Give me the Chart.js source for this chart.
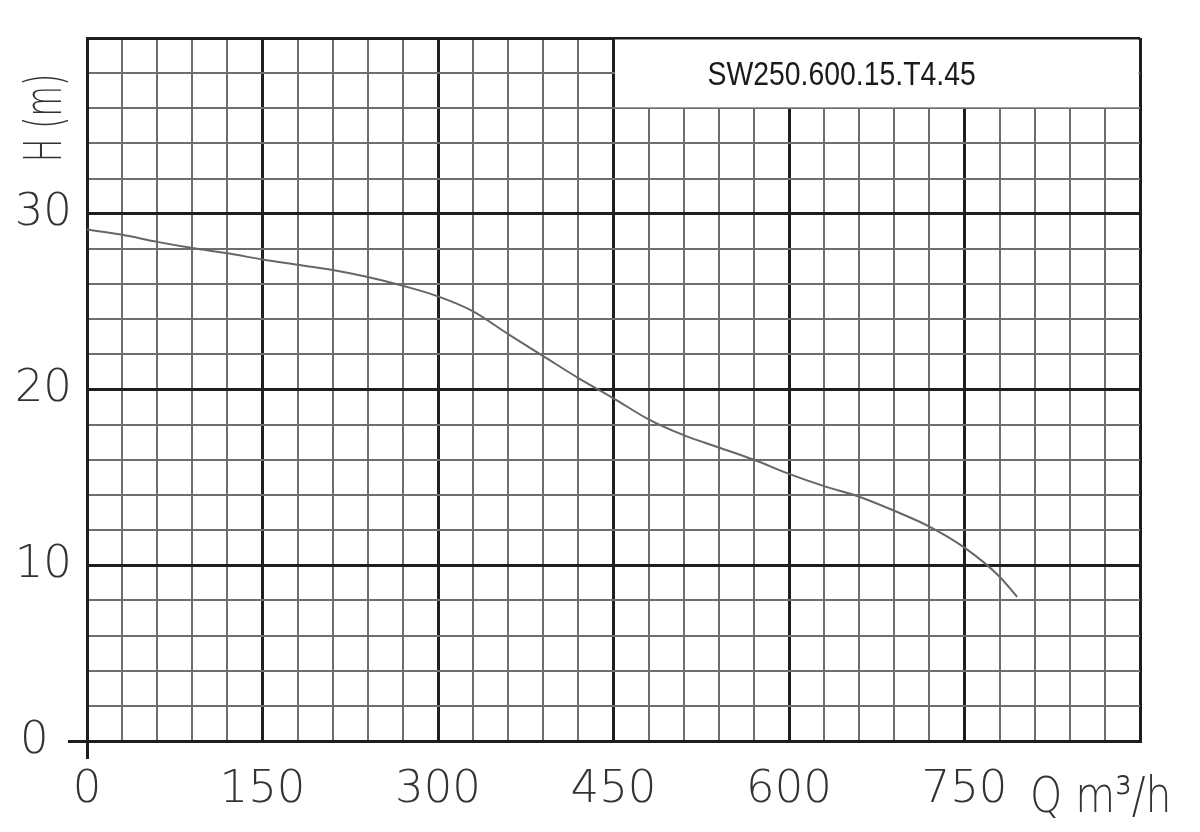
<!DOCTYPE html>
<html>
<head>
<meta charset="utf-8">
<title>SW250.600.15.T4.45</title>
<script src="https://cdn.jsdelivr.net/npm/chart.js@4.4.1/dist/chart.umd.min.js"></script>
<style>
  body { margin: 0; background: #fff; }
  canvas { display: block; }
</style>
</head>
<body>
<canvas id="curve" width="1200" height="832"></canvas>
<script>
// pump curve: flow Q (m3/h) and head H (m)
var flow = [0, 30, 60, 90, 120, 150, 180, 210, 240, 270, 300, 330, 360, 390, 420,
            450, 480, 510, 540, 570, 600, 630, 660, 690, 720, 750, 780, 795];
var head = [29.1, 28.8, 28.4, 28.05, 27.75, 27.4, 27.1, 26.8, 26.4, 25.9, 25.3, 24.45, 23.15, 21.9, 20.65,
            19.5, 18.3, 17.4, 16.7, 16.0, 15.2, 14.5, 13.9, 13.1, 12.2, 11.0, 9.35, 8.2];

var xLabels = [0, 150, 300, 450, 600, 750];
var yLabels = [0, 10, 20, 30];

var modelName = 'SW250.600.15.T4.45';
var yName = 'H (m)';
var xName = 'Q m\u00b3/h';

var tickFont = { family: "'DejaVu Sans', sans-serif", size: 45, weight: 200 };

var points = [];
for (var i = 0; i < flow.length; i++) {
	points.push({ x: flow[i], y: head[i] });
}

function gridColor(major) {
	return function(c) {
		return c.tick.value % major === 0 ? '#1e1e1e' : '#6e6e6e';
	};
}
function gridWidth(major) {
	return function(c) {
		return c.tick.value % major === 0 ? 3 : 2;
	};
}
function axisTick(c) {
	return c.tick.value === 0 ? '#1e1e1e' : 'rgba(0,0,0,0)';
}

// narrow text drawn by hand (the sheet uses a condensed drafting font)
function narrowText(ctx, text, x, y, squeeze, angle, align, baseline) {
	ctx.save();
	ctx.translate(x, y);
	if (angle) ctx.rotate(angle);
	ctx.scale(squeeze, 1);
	ctx.textAlign = align;
	ctx.textBaseline = baseline;
	ctx.fillText(text, 0, 0);
	ctx.restore();
}

var sheet = {
	id: 'sheet',
	beforeDatasetsDraw: function(chart) {
		var ctx = chart.ctx;
		var xs = chart.scales.x, ys = chart.scales.y;
		var x1 = xs.getPixelForValue(450), x2 = xs.getPixelForValue(900);
		var y1 = ys.getPixelForValue(40), y2 = ys.getPixelForValue(36);
		ctx.save();
		ctx.fillStyle = '#fff';
		ctx.fillRect(x1 + 1.5, y1 + 1.5, x2 - x1 - 3, y2 - y1 - 2.5);
		ctx.fillStyle = '#1a1a1a';
		ctx.font = "33px 'Liberation Sans', Arial, sans-serif";
		narrowText(ctx, modelName, xs.getPixelForValue(645), ys.getPixelForValue(37.85), 0.86, 0, 'center', 'middle');
		ctx.restore();
	},
	afterDraw: function(chart) {
		var ctx = chart.ctx;
		ctx.save();
		ctx.fillStyle = '#333';
		ctx.font = '200 52px ' + tickFont.family;
		narrowText(ctx, yName, 47, 118, 0.6, -Math.PI / 2, 'center', 'middle');
		ctx.font = '200 50px ' + tickFont.family;
		narrowText(ctx, xName, 1030, 812, 0.82, 0, 'left', 'alphabetic');
		ctx.restore();
	}
};

new Chart(document.getElementById('curve'), {
	type: 'line',
	data: {
		datasets: [{
			data: points,
			borderColor: '#666',
			borderWidth: 2,
			pointRadius: 0,
			cubicInterpolationMode: 'monotone',
			fill: false
		}]
	},
	options: {
		responsive: false,
		animation: false,
		layout: { padding: { top: 38, right: 60, left: 0, bottom: 0 } },
		plugins: { legend: { display: false }, tooltip: { enabled: false } },
		scales: {
			x: {
				type: 'linear',
				min: 0,
				max: 900,
				afterFit: function(s) { s.height = 91; },
				border: { display: true, color: '#1e1e1e', width: 3 },
				grid: {
					color: gridColor(150),
					lineWidth: gridWidth(150),
					tickLength: 18,
					tickColor: axisTick,
					tickWidth: 3
				},
				ticks: {
					stepSize: 30,
					autoSkip: false,
					maxRotation: 0,
					padding: 4,
					color: '#333',
					font: tickFont,
					callback: function(v) { return xLabels.indexOf(v) >= 0 ? String(v) : ''; }
				}
			},
			y: {
				min: 0,
				max: 40,
				afterFit: function(s) { s.width = 87; },
				border: { display: true, color: '#1e1e1e', width: 3 },
				grid: {
					color: gridColor(10),
					lineWidth: gridWidth(10),
					tickLength: 19,
					tickColor: axisTick,
					tickWidth: 3
				},
				ticks: {
					stepSize: 2,
					autoSkip: false,
					padding: -4,
					color: '#333',
					font: tickFont,
					callback: function(v) {
						if (v === 0) return '0\u2008\u2009';
						return yLabels.indexOf(v) >= 0 ? String(v) : '';
					}
				}
			}
		}
	},
	plugins: [sheet]
});
</script>
</body>
</html>
